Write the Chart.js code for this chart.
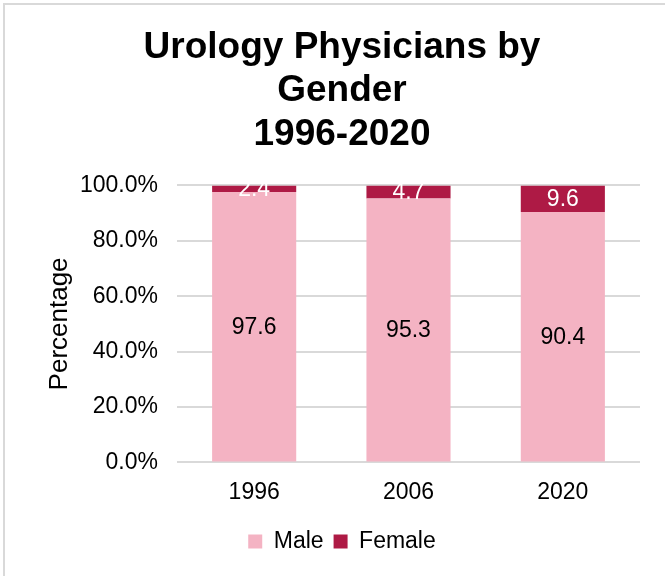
<!DOCTYPE html>
<html>
<head>
<meta charset="utf-8">
<script src="https://cdn.jsdelivr.net/npm/chart.js@4/dist/chart.umd.min.js"></script>
<style>
html,body{margin:0;padding:0;background:#fff;overflow:hidden;}
#wrap{position:relative;width:665px;height:576px;}
#frame{position:absolute;left:3px;top:3px;width:700px;height:700px;border:2px solid #d9d9d9;box-sizing:border-box;}
canvas{position:absolute;left:0;top:0;}
</style>
</head>
<body>
<div id="wrap">
<div id="frame"></div>
<canvas id="c" width="665" height="576"></canvas>
</div>
<script>
const categories = ["1996", "2006", "2020"];
const maleValues = [97.6, 95.3, 90.4];
const femaleValues = [2.4, 4.7, 9.6];
const yTicks = [0, 20, 40, 60, 80, 100];

const FONT = "'Liberation Sans', Arial, sans-serif";

const labelPlugin = {
  id: 'barLabels',
  afterDatasetsDraw(chart) {
    const ctx = chart.ctx;
    ctx.save();
    ctx.font = "23px " + FONT;
    ctx.textAlign = 'center';
    ctx.textBaseline = 'middle';
    chart.data.datasets.forEach((ds, di) => {
      const meta = chart.getDatasetMeta(di);
      meta.data.forEach((bar, i) => {
        const v = ds.data[i];
        const y = (bar.y + bar.base) / 2;
        ctx.fillStyle = ds.labelColor;
        ctx.fillText(v.toFixed(1), bar.x, y + 1);
      });
    });
    ctx.restore();
  }
};

new Chart(document.getElementById('c'), {
  type: 'bar',
  data: {
    labels: categories,
    datasets: [
      { label: 'Male', data: maleValues, backgroundColor: '#F4B3C3', labelColor: '#000000', borderWidth: 0 },
      { label: 'Female', data: femaleValues, backgroundColor: '#AE1A45', labelColor: '#ffffff', borderWidth: 0 }
    ]
  },
  plugins: [labelPlugin],
  options: {
    responsive: false,
    animation: false,
    devicePixelRatio: 1,
    layout: { padding: { left: 44, right: 25, top: 26, bottom: 13 } },
    datasets: { bar: { categoryPercentage: 1.0, barPercentage: 0.545 } },
    plugins: {
      title: {
        display: true,
        text: ['Urology Physicians by', 'Gender', '1996-2020'],
        color: '#000',
        font: { family: FONT, size: 37, weight: 'bold', lineHeight: 1.175 },
        padding: { top: 0, bottom: 29 }
      },
      legend: {
        display: true,
        position: 'bottom',
        labels: {
          color: '#000',
          font: { family: FONT, size: 23 },
          boxWidth: 14, boxHeight: 14,
          padding: 10
        }
      },
      tooltip: { enabled: false }
    },
    scales: {
      x: {
        stacked: true,
        grid: { display: false },
        border: { display: false },
        afterFit(scale) { scale.height += 6; },
        ticks: { color: '#000', font: { family: FONT, size: 23 }, padding: 8 }
      },
      y: {
        stacked: true,
        min: 0, max: 100,
        afterBuildTicks(scale) { scale.ticks = yTicks.map(v => ({ value: v })); },
        afterFit(scale) { scale.width = 133; },
        grid: { color: '#d9d9d9', lineWidth: 2, drawTicks: false },
        border: { display: false },
        ticks: {
          color: '#000', font: { family: FONT, size: 23 }, padding: 19,
          callback: v => v.toFixed(1) + '%'
        },
        title: {
          display: true, text: 'Percentage', color: '#000',
          font: { family: FONT, size: 26 }, padding: 0
        }
      }
    }
  }
});
</script>
</body>
</html>
